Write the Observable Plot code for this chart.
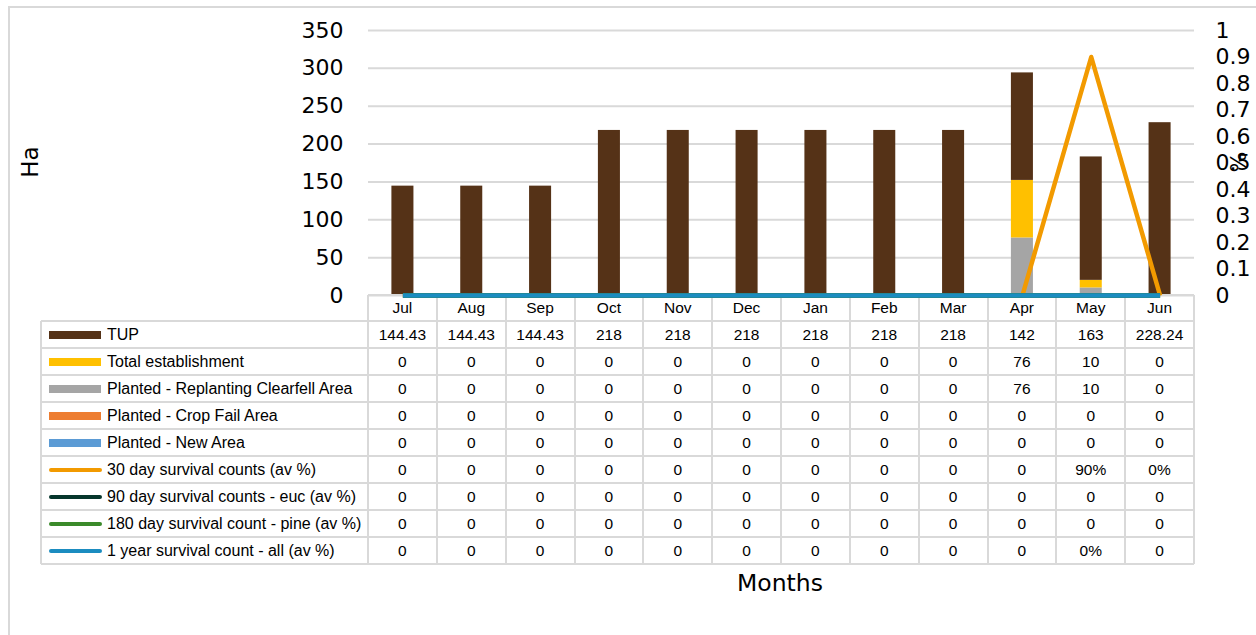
<!DOCTYPE html>
<html><head><meta charset="utf-8">
<script src="https://cdn.jsdelivr.net/npm/d3@7"></script>
<script src="https://cdn.jsdelivr.net/npm/@observablehq/plot@0.6"></script>
<style>
body{margin:0;background:#fff;}
#wrap{position:relative;width:1256px;height:635px;overflow:hidden;font-family:"Liberation Sans",Arial,sans-serif;color:#000;}
#wrap svg{position:absolute;left:0;top:0;}
.abs{position:absolute;}
.cell{position:absolute;display:flex;align-items:center;justify-content:center;font-size:15.5px;white-space:nowrap;}
</style></head><body><div id="wrap"></div>
<script>
// ---- data ----
const months = ["Jul","Aug","Sep","Oct","Nov","Dec","Jan","Feb","Mar","Apr","May","Jun"];
const tup          = [144.43,144.43,144.43,218,218,218,218,218,218,142,163,228.24];
const totalEst     = [0,0,0,0,0,0,0,0,0,76,10,0];
const replanting   = [0,0,0,0,0,0,0,0,0,76,10,0];
const cropFail     = [0,0,0,0,0,0,0,0,0,0,0,0];
const newArea      = [0,0,0,0,0,0,0,0,0,0,0,0];
const surv30       = [0,0,0,0,0,0,0,0,0,0,0.9,0];
const surv90       = [0,0,0,0,0,0,0,0,0,0,0,0];
const surv180      = [0,0,0,0,0,0,0,0,0,0,0,0];
const surv1y       = [0,0,0,0,0,0,0,0,0,0,0,0];
// labels as shown in the data table
const tupLabels    = ["144.43","144.43","144.43","218","218","218","218","218","218","142","163","228.24"];
const surv30Labels = ["0","0","0","0","0","0","0","0","0","0","90%","0%"];
const surv1yLabels = ["0","0","0","0","0","0","0","0","0","0","0%","0"];
const leftTicks  = [0,50,100,150,200,250,300,350];
const rightTicks = [0,0.1,0.2,0.3,0.4,0.5,0.6,0.7,0.8,0.9,1];
const rightTickLabels = ["0","0.1","0.2","0.3","0.4","0.5","0.6","0.7","0.8","0.9","1"];

// series definitions (table order)
const seriesNames  = ["TUP","Total establishment","Planted - Replanting Clearfell Area","Planted - Crop Fail Area","Planted - New Area","30 day survival counts (av %)","90 day survival counts - euc (av %)","180 day survival count - pine (av %)","1 year survival count - all (av %)"];
const seriesColors = ["#553217","#FFC000","#A5A5A5","#ED7D31","#5B9BD5","#F29A00","#06362C","#3A8A2A","#1B8CC0"];
const seriesKinds  = ["bar","bar","bar","bar","bar","line","line","line","line"];
const seriesValues = [tup,totalEst,replanting,cropFail,newArea,surv30,surv90,surv180,surv1y];
const seriesLabels = [tupLabels,null,null,null,null,surv30Labels,null,null,surv1yLabels];
const stackOrder   = [4,3,2,1,0]; // bottom to top

// ---- layout ----
const W=1256,H=635,mL=368,mR=62,mT=30,mB=340;
const wrap = document.getElementById("wrap");

const barData = [];
months.forEach((m,i)=>stackOrder.forEach(s=>barData.push({month:m,series:seriesNames[s],value:seriesValues[s][i]})));

const xOpts = {domain:months,paddingInner:0.68,paddingOuter:0.34,round:false,axis:null};
const p1 = Plot.plot({
  width:W,height:H,marginLeft:mL,marginRight:mR,marginTop:mT,marginBottom:mB,
  style:{background:"transparent",fontFamily:"DejaVu Sans",fontSize:"22px",color:"#000"},
  x:xOpts,
  y:{domain:[0,350]},
  color:{domain:seriesNames.slice(0,5),range:seriesColors.slice(0,5)},
  marks:[
    Plot.gridY(leftTicks,{stroke:"#d9d9d9",strokeOpacity:1,strokeWidth:2}),
    Plot.barY(barData,{x:"month",y:"value",fill:"series",order:null}),
    Plot.axisY(leftTicks,{tickSize:0,tickPadding:25,label:null,fontSize:22})
  ]
});
wrap.appendChild(p1);

const lineMarks = [5,6,7,8].map(s=>Plot.lineY(months.map((m,i)=>({month:m,value:seriesValues[s][i]})),
  {x:"month",y:"value",stroke:seriesColors[s],strokeWidth:4.5,strokeLinecap:"butt"}));
const p2 = Plot.plot({
  width:W,height:H,marginLeft:mL,marginRight:mR,marginTop:mT,marginBottom:mB,
  style:{background:"transparent",fontFamily:"DejaVu Sans",fontSize:"22px",color:"#000"},
  x:xOpts,
  y:{domain:[0,1]},
  marks:[
    ...lineMarks,
    Plot.axisY(rightTicks,{anchor:"right",tickSize:0,tickPadding:21,label:null,fontSize:22,
      tickFormat:(d,i)=>rightTickLabels[rightTicks.indexOf(d)]})
  ]
});

// ---- data table (positions from the Plot x scale) ----
const xs = p1.scale("x");
const step = xs.step, bw = xs.bandwidth;
const colCenter = m => xs.apply(m) + bw/2;
const tableLeft = 41, headTop = 295, rowTop = 321, rowH = 27;
const gridCol = "#d9d9d9";
function add(el){wrap.appendChild(el);return el;}
function div(css,text){const d=document.createElement("div");d.className="abs";d.style.cssText=css;if(text!=null)d.textContent=text;return add(d);}

// chart frame
div(`left:8px;top:6px;width:1400px;height:800px;border-left:2px solid ${gridCol};border-top:2px solid ${gridCol};`);

const nRows = seriesNames.length;
const tableBottom = rowTop + nRows*rowH;
const colLeft0 = colCenter(months[0]) - step/2;
const colRight = colCenter(months[months.length-1]) + step/2;
// horizontal lines
div(`left:${colLeft0}px;top:${headTop-1}px;width:${colRight-colLeft0}px;height:2px;background:${gridCol};`);
for(let r=0;r<=nRows;r++) div(`left:${tableLeft}px;top:${rowTop+r*rowH-1}px;width:${colRight-tableLeft}px;height:2px;background:${gridCol};`);
// vertical lines
div(`left:${tableLeft-1}px;top:${rowTop}px;width:2px;height:${tableBottom-rowTop}px;background:${gridCol};`);
for(let c=0;c<=months.length;c++){const x=colLeft0+c*step;div(`left:${x-1}px;top:${headTop}px;width:2px;height:${tableBottom-headTop}px;background:${gridCol};`);}
// header labels
months.forEach(m=>{const c=div(`left:${colCenter(m)-step/2}px;top:${headTop}px;width:${step}px;height:${rowTop-headTop}px;`,m);c.className="cell";});
// rows
seriesNames.forEach((name,s)=>{
  const top=rowTop+s*rowH, cy=top+rowH/2;
  if(seriesKinds[s]==="bar") div(`left:49px;top:${cy-4}px;width:52px;height:8px;background:${seriesColors[s]};`);
  else div(`left:49px;top:${cy-2}px;width:53px;height:4.5px;border-radius:3px;background:${seriesColors[s]};`);
  const t=div(`left:107px;top:${top}px;height:${rowH}px;`,name);t.className="cell";t.style.justifyContent="flex-start";t.style.fontSize="16px";
  months.forEach((m,i)=>{
    const lab = seriesLabels[s] ? seriesLabels[s][i] : String(seriesValues[s][i]);
    const c=div(`left:${colCenter(m)-step/2}px;top:${top}px;width:${step}px;height:${rowH}px;`,lab);c.className="cell";
  });
});

wrap.appendChild(p2);

// axis titles
div(`left:30px;top:162px;transform:translate(-50%,-50%) rotate(-90deg);font-family:'DejaVu Sans';font-size:23px;white-space:nowrap;`,"Ha");
div(`left:1238px;top:162px;transform:translate(-50%,-50%) rotate(-90deg);font-family:'DejaVu Sans';font-size:22px;white-space:nowrap;`,"%");
div(`left:780px;top:583px;transform:translate(-50%,-50%);font-family:'DejaVu Sans';font-size:23.5px;white-space:nowrap;`,"Months");
</script></body></html>
